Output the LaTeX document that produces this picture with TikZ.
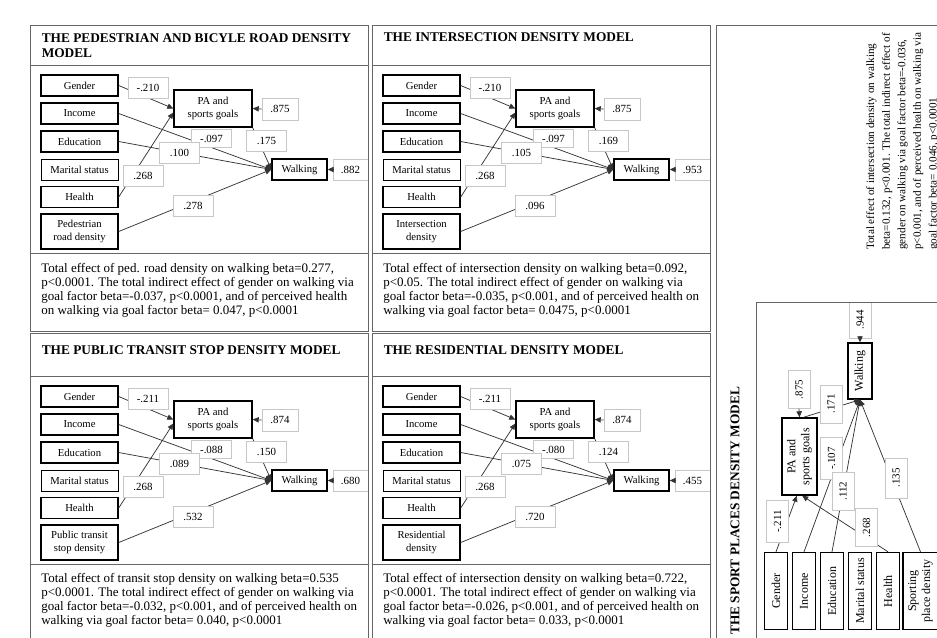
\documentclass[tikz,border=0pt]{standalone}
\usepackage{fontspec}
\setmainfont{Liberation Serif}
\usetikzlibrary{arrows.meta}

\tikzset{
  frame/.style={draw=black!60, line width=0.75pt},
  varbox/.style={draw=black, line width=1.05pt, fill=white, inner sep=0pt, align=center,
    minimum width=57.75pt, minimum height=15.75pt, font=\fontsize{8}{10}\selectfont},
  thinbox/.style={line width=0.65pt},
  coef/.style={draw=black!22, line width=0.6pt, fill=white, inner sep=0pt,
    minimum width=30pt, minimum height=15.75pt, font=\fontsize{8.2}{10}\selectfont},
  link/.style={draw=black!80, line width=0.55pt},
  effect/.style={link, -{Triangle[length=4.5pt,width=4pt]}},
  paneltext/.style={anchor=north west, inner sep=0pt, align=left,
    font=\fontsize{9.75}{10.5}\selectfont},
  paneltitle/.style={anchor=north west, inner sep=0pt, align=left,
    font=\fontsize{10}{11.25}\selectfont\bfseries},
}

% Path model: #1 built-environment variable, #2 gender->goals, #3 goals residual,
% #4 income->walking, #5 goals->walking, #6 education->walking,
% #7 walking residual, #8 environment->walking
\newcommand\semmodel[8]{%
  \node[varbox] (gen) at (79.5,85.5) {Gender};
  \node[varbox] (inc) at (79.5,113.5) {Income};
  \node[varbox] (edu) at (79.5,141.5) {Education};
  \node[varbox,thinbox] (mar) at (79.5,169.5) {Marital status};
  \node[varbox] (hea) at (79.5,197) {Health};
  \node[varbox,minimum height=26.25pt] (env) at (79.5,231.5) {#1};
  \node[varbox,minimum width=58.5pt,minimum height=27.75pt] (pa) at (213,108.5) {PA and\\sports goals};
  \node[varbox,minimum width=41.25pt] (walk) at (299.5,169.5) {Walking};
  \draw[effect] (gen.east) -- (pa.west);
  \draw[effect] (inc.east) -- (walk.west);
  \draw[effect] (edu.east) -- (walk.west);
  \draw[effect] (hea.east) -- ([yshift=-3pt]pa.west);
  \draw[effect] (env.east) -- (walk.west);
  \draw[effect] (pa.south east) -- (walk.west);
  \node[coef] (cgen) at (148,87.5) {#2};
  \node[coef,minimum width=27pt,minimum height=16.5pt] (cpa) at (280,109) {#3};
  \node[coef,minimum height=13pt] (cinc) at (211.5,138.5) {#4};
  \node[coef] (cpw) at (266.5,141) {#5};
  \node[coef] (cedu) at (179.5,152.5) {#6};
  \node[coef] (chea) at (143,176) {.268};
  \node[coef,minimum width=26.25pt] (cwalk) at (350.5,169.5) {#7};
  \node[coef] (cenv) at (193,205.5) {#8};
  \draw[effect] (cpa.west) -- (pa.east);
  \draw[effect] (cwalk.west) -- (walk.east);
}

\begin{document}
\begin{tikzpicture}[x=0.75pt,y=-0.75pt]
\useasboundingbox (0,0) rectangle (937,637);
\fill[white] (0,0) rectangle (937,637);
\clip (0,0) rectangle (937,637);

% ---- four upright models ----
\begin{scope}[name prefix=pa-]
  \semmodel{Pedestrian\\road density}{-.210}{.875}{-.097}{.175}{.100}{.882}{.278}
\end{scope}
\begin{scope}[shift={(342,0)}, name prefix=pb-]
  \semmodel{Intersection\\density}{-.210}{.875}{-.097}{.169}{.105}{.953}{.096}
\end{scope}
\begin{scope}[shift={(0,311)}, name prefix=pc-]
  \semmodel{Public transit\\stop density}{-.211}{.874}{-.088}{.150}{.089}{.680}{.532}
\end{scope}
\begin{scope}[shift={(342,311)}, name prefix=pd-]
  \semmodel{Residential\\density}{-.211}{.874}{-.080}{.124}{.075}{.455}{.720}
\end{scope}

% ---- titles and notes of the upright models ----
\node[paneltitle] (t1) at (41.5,33.6) {THE PEDESTRIAN AND BICYLE ROAD DENSITY\\MODEL};
\node[paneltitle] (t2) at (383.5,32.6) {THE INTERSECTION DENSITY MODEL};
\node[paneltitle] (t3) at (41.5,345.6) {THE PUBLIC TRANSIT STOP DENSITY MODEL};
\node[paneltitle] (t4) at (383.5,345.6) {THE RESIDENTIAL DENSITY MODEL};

\node[paneltext] (n1) at (41,263.4) {Total effect of ped. road density on walking beta=0.277,\\
p<0.0001. The total indirect effect of gender on walking via\\
goal factor beta=-0.037, p<0.0001, and of perceived health\\
on walking via goal factor beta= 0.047, p<0.0001};
\node[paneltext] (n2) at (383,263.4) {Total effect of intersection density on walking beta=0.092,\\
p<0.05. The total indirect effect of gender on walking via\\
goal factor beta=-0.035, p<0.001, and of perceived health on\\
walking via goal factor beta= 0.0475, p<0.0001};
\node[paneltext] (n3) at (41,573.4) {Total effect of transit stop density on walking beta=0.535\\
p<0.0001. The total indirect effect of gender on walking via\\
goal factor beta=-0.032, p<0.001, and of perceived health on\\
walking via goal factor beta= 0.040, p<0.0001};
\node[paneltext] (n4) at (383,573.4) {Total effect of intersection density on walking beta=0.722,\\
p<0.0001. The total indirect effect of gender on walking via\\
goal factor beta=-0.026, p<0.001, and of perceived health on\\
walking via goal factor beta= 0.033, p<0.0001};

% ---- sport places model, turned on its side ----
\begin{scope}[every node/.append style={rotate=90}]
  \node[varbox,minimum height=17.25pt,font=\fontsize{9}{10.5}\selectfont] (sgen) at (776,591) {Gender};
  \node[varbox,minimum height=17.25pt,font=\fontsize{9}{10.5}\selectfont] (sinc) at (804,591) {Income};
  \node[varbox,minimum height=17.25pt,font=\fontsize{9}{10.5}\selectfont] (sedu) at (832,591) {Education};
  \node[varbox,thinbox,minimum height=17.25pt,font=\fontsize{9}{10.5}\selectfont] (smar) at (860,591) {Marital status};
  \node[varbox,minimum height=17.25pt,font=\fontsize{9}{10.5}\selectfont] (shea) at (888,591) {Health};
  \node[varbox,minimum height=26.25pt,font=\fontsize{9}{10.5}\selectfont] (senv) at (920.5,591) {Sporting\\place density};
  \node[varbox,minimum width=57.75pt,minimum height=26.25pt,font=\fontsize{9}{10.5}\selectfont] (spa) at (799.5,456.5) {PA and\\sports goals};
  \node[varbox,minimum width=42pt,minimum height=18pt,font=\fontsize{9}{10.5}\selectfont] (swalk) at (860,371) {Walking};
\end{scope}
\draw[effect] (sgen.east) -- ([xshift=-2pt]spa.west);
\draw[effect] (shea.east) -- ([xshift=2pt]spa.west);
\draw[effect] (sinc.east) -- (swalk.west);
\draw[effect] (sedu.east) -- (swalk.west);
\draw[effect] (senv.east) -- (swalk.west);
\draw[effect] ([xshift=3pt]spa.east) -- (swalk.west);
\begin{scope}[every node/.append style={rotate=90}]
  \node[coef,minimum width=28pt,minimum height=16.5pt] (s875) at (799,389.5) {.875};
  \node[coef,minimum width=27pt,minimum height=16.5pt] (s944) at (860,320) {.944};
  \node[coef,minimum width=28.5pt,minimum height=16.5pt] (s171) at (831,404) {.171};
  \node[coef,minimum width=32pt,minimum height=16.5pt] (s107) at (831.5,458.5) {-.107};
  \node[coef,minimum width=28.5pt,minimum height=16.5pt] (s112) at (843,491) {.112};
  \node[coef,minimum width=30pt,minimum height=16.5pt] (s135) at (896,478) {.135};
  \node[coef,minimum width=32pt,minimum height=16.5pt] (s211) at (777.5,521.5) {-.211};
  \node[coef,minimum width=29pt,minimum height=16.5pt] (s268) at (866.5,527.5) {.268};
\end{scope}
\draw[effect] (s875.west) -- (spa.east);
\draw[effect] (s944.west) -- (swalk.east);

\node[rotate=90, anchor=base west, inner sep=0pt, font=\fontsize{10}{11}\selectfont\bfseries]
  (stitle) at (739.4,635) {THE SPORT PLACES DENSITY MODEL};
\node[rotate=90, anchor=north west, inner sep=0pt, align=left, font=\fontsize{8.4}{11.7}\selectfont]
  (snote) at (866,250) {Total effect of intersection density on walking\\
beta=0.132, p<0.001. The total indirect effect of\\
gender on walking via goal factor beta=-0.036,\\
p<0.001, and of perceived health on walking via\\
goal factor beta= 0.046, p<0.0001};

% ---- table frames ----
\draw[frame] (30,25) rectangle (368,331);
\draw[frame] (30,65) -- (368,65) (30,253) -- (368,253);
\draw[frame] (372,25) rectangle (710,331);
\draw[frame] (372,65) -- (710,65) (372,253) -- (710,253);
\draw[frame] (30,333) rectangle (368,660);
\draw[frame] (30,376) -- (368,376) (30,564) -- (368,564);
\draw[frame] (372,333) rectangle (710,660);
\draw[frame] (372,376) -- (710,376) (372,564) -- (710,564);
\draw[frame] (716,25) rectangle (960,660);
\draw[frame] (756,660) -- (756,302) -- (960,302);
\end{tikzpicture}
\end{document}
